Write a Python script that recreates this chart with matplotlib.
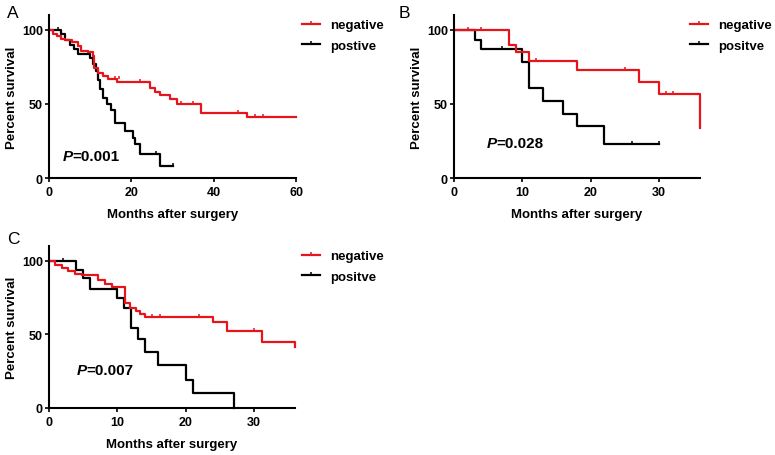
import numpy as np
import matplotlib.pyplot as plt
from matplotlib.path import Path
from matplotlib.lines import Line2D

plt.rcParams['font.family'] = ['Liberation Sans', 'DejaVu Sans']

RED = '#e8141b'
BLACK = '#000000'

# panel A
a_neg_t = [0, 1, 2, 3, 4, 5.5, 7, 7.8, 9.4, 10.6, 11, 11.8, 13.1, 14.4, 16.5, 24.5, 25.7, 27, 29.5, 31, 37, 48, 60]
a_neg_s = [100, 97, 96, 94, 93, 92, 89, 86, 85, 82, 74, 71, 69, 67, 65, 61, 58, 56, 53, 50, 44, 41, 41]
a_neg_cens_t = [16, 17, 22, 32, 35, 46, 50, 52]
a_neg_cens_s = [67, 67, 65, 50, 50, 44, 41, 41]
a_pos_t = [0, 3, 4, 5, 6, 7, 10, 10.8, 11.5, 12, 12.4, 13.2, 14, 15, 16, 18.4, 20.3, 21, 22.1, 27, 30]
a_pos_s = [100, 97, 93, 90, 87, 84, 81, 77, 72, 66, 60, 54, 50, 46, 37, 32, 27, 23, 16, 8, 8]
a_pos_cens_t = [2.3, 26, 30]
a_pos_cens_s = [100, 16, 8]

# panel B
b_neg_t = [0, 8, 9, 11, 18, 27, 30, 36]
b_neg_s = [100, 90, 85, 79, 73, 65, 57, 34]
b_neg_cens_t = [2, 4, 12, 25, 31, 32]
b_neg_cens_s = [100, 100, 79, 73, 57, 57]
b_pos_t = [0, 3, 4, 10, 11, 13, 16, 18, 22, 30]
b_pos_s = [100, 93, 87, 78, 61, 52, 43, 35, 23, 23]
b_pos_cens_t = [7, 26, 30]
b_pos_cens_s = [87, 23, 23]

# panel C
c_neg_t = [0, 0.9, 1.9, 2.8, 3.8, 4.8, 7.2, 8.2, 9.2, 11.1, 11.9, 12.8, 13.3, 14.1, 24, 26, 31.1, 36]
c_neg_s = [100, 97, 95, 93, 91, 90, 87, 84.5, 82, 71, 68, 66, 64, 62, 58.5, 52, 45, 41.5]
c_neg_cens_t = [15, 16.2, 22, 30]
c_neg_cens_s = [62, 62, 62, 52]
c_pos_t = [0, 4, 5, 6, 10, 11, 12, 13, 14, 16, 20, 21, 27]
c_pos_s = [100, 94, 88, 81, 75, 68, 54, 47, 38, 29, 19, 10, 0]
c_pos_cens_t = [2]
c_pos_cens_s = [100]

tick_mark = Path([(0, 0), (0, 1)], [Path.MOVETO, Path.LINETO])

fig = plt.figure(figsize=(7.75, 4.56), dpi=100)
W, H = 775, 456


def make_ax(left, top, right, bottom):
    return fig.add_axes([left / W, 1 - bottom / H, (right - left) / W, (bottom - top) / H])


def km(ax, t, s, ct, cs, color, label):
    ax.step(t, s, where='post', color=color, lw=1.6, clip_on=False, label=label)
    ax.plot(ct, cs, ls='none', marker=tick_mark, ms=5, mew=1.1, color=color, clip_on=False)


def style(ax, xmax, xticks):
    ax.set_xlim(0, xmax)
    ax.set_ylim(0, 110)
    ax.set_xticks(xticks)
    ax.set_yticks([0, 50, 100])
    for s in ['top', 'right']:
        ax.spines[s].set_visible(False)
    for s in ['left', 'bottom']:
        ax.spines[s].set_linewidth(1.5)
    ax.tick_params(length=3, width=1.2, labelsize=9)
    ax.tick_params(axis='x', pad=3)
    ax.tick_params(axis='y', pad=1.5)
    for lab in ax.get_xticklabels() + ax.get_yticklabels():
        lab.set_fontweight('bold')
    ax.set_xlabel('Months after surgery', fontsize=9.5, fontweight='bold', labelpad=7)
    ax.set_ylabel('Percent survival', fontsize=9.5, fontweight='bold', labelpad=3)


def legend(ax, x, y, pos_label):
    handles = [Line2D([], [], color=RED, lw=1.6, marker=tick_mark, ms=4, mew=1.1),
               Line2D([], [], color=BLACK, lw=1.6, marker=tick_mark, ms=4, mew=1.1)]
    ax.legend(handles, ['negative', pos_label], loc='upper left',
              bbox_to_anchor=(x / W, 1 - y / H), bbox_transform=fig.transFigure,
              frameon=False, borderpad=0, borderaxespad=0, handlelength=1.4,
              handletextpad=0.75, labelspacing=0.62, prop={'size': 9.5, 'weight': 'bold'})


def pval(ax, x, y, val):
    ax.text(x, y, 'P', fontsize=11, fontweight='bold', style='italic', va='center', ha='left')
    ax.annotate('=' + val, (x, y), xytext=(7.0, 0), textcoords='offset points',
                fontsize=11, fontweight='bold', va='center', ha='left')


axA = make_ax(49, 16, 296, 179)
km(axA, a_pos_t, a_pos_s, a_pos_cens_t, a_pos_cens_s, BLACK, 'postive')
km(axA, a_neg_t, a_neg_s, a_neg_cens_t, a_neg_cens_s, RED, 'negative')
style(axA, 60, [0, 20, 40, 60])
legend(axA, 302, 20, 'postive')
pval(axA, 3.4, 15, '0.001')

axB = make_ax(454, 16, 700, 179)
km(axB, b_pos_t, b_pos_s, b_pos_cens_t, b_pos_cens_s, BLACK, 'positve')
km(axB, b_neg_t, b_neg_s, b_neg_cens_t, b_neg_cens_s, RED, 'negative')
style(axB, 36, [0, 10, 20, 30])
legend(axB, 690, 20, 'positve')
pval(axB, 4.8, 23.5, '0.028')

axC = make_ax(49, 247, 295, 409)
km(axC, c_pos_t, c_pos_s, c_pos_cens_t, c_pos_cens_s, BLACK, 'positve')
km(axC, c_neg_t, c_neg_s, c_neg_cens_t, c_neg_cens_s, RED, 'negative')
style(axC, 36, [0, 10, 20, 30])
legend(axC, 302, 251, 'positve')
pval(axC, 4.1, 26, '0.007')

fig.text(7 / W, 1 - 13 / H, 'A', fontsize=12.5, va='center', ha='left')
fig.text(399 / W, 1 - 13 / H, 'B', fontsize=12.5, va='center', ha='left')
fig.text(7 / W, 1 - 240 / H, 'C', fontsize=12.5, va='center', ha='left')

fig.savefig('out.png', dpi=100)
